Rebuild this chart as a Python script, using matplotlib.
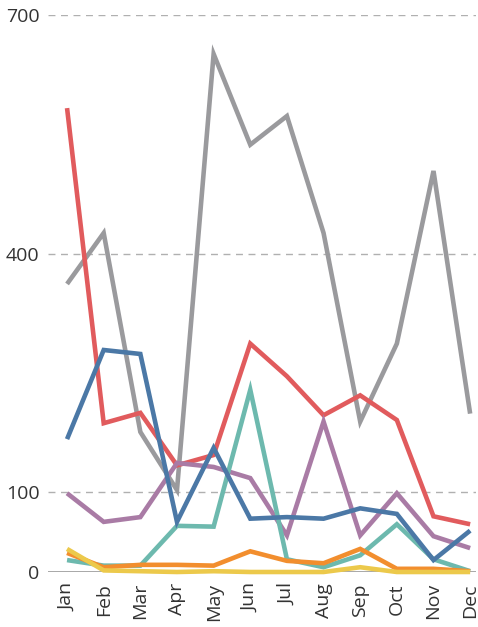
import matplotlib
matplotlib.use("Agg")
from matplotlib import pyplot as plt

months = ["Jan", "Feb", "Mar", "Apr", "May", "Jun", "Jul", "Aug", "Sep", "Oct", "Nov", "Dec"]

gray = [362, 426, 176, 103, 651, 537, 573, 426, 189, 287, 504, 199]
red = [583, 187, 200, 134, 147, 287, 246, 197, 222, 191, 70, 60]
purple = [99, 63, 69, 137, 132, 118, 46, 189, 46, 99, 45, 30]
teal = [15, 8, 8, 58, 57, 229, 16, 6, 21, 60, 16, 1]
blue = [167, 279, 274, 63, 156, 67, 69, 67, 80, 73, 15, 52]
orange = [24, 6, 9, 9, 8, 26, 14, 11, 29, 4, 4, 1]
yellow = [29, 2, 1, 0, 1, 0, 0, 0, 6, 0, 0, 0]

series = [
    (gray, "#9a9a9d"),
    (red, "#e15b5d"),
    (purple, "#a97ba5"),
    (teal, "#6db9ae"),
    (blue, "#4b78a6"),
    (orange, "#f28e2e"),
    (yellow, "#ecc94b"),
]

plt.rcParams["font.family"] = ["Open Sans", "DejaVu Sans"]

fig = plt.figure(figsize=(4.78, 6.27), dpi=100)
ax = fig.add_axes([48 / 478, 55 / 627, 428 / 478, 557 / 627])

x = list(range(len(months)))
for vals, col in series:
    ax.plot(x, vals, color=col, lw=3.3, clip_on=False, solid_joinstyle="miter", solid_capstyle="butt")

ax.set_xlim(-0.52, 11.16)
ax.set_ylim(0, 700)
ax.set_yticks([0, 100, 400, 700])
for v in [100, 400, 700]:
    ax.axhline(v, color="#b0b0b0", lw=1, ls=(0, (5, 4)), zorder=0)
ax.axhline(0, color="#999999", lw=1.2, zorder=0)

ax.set_xticks(x)
ax.set_xticklabels(months, rotation=90)
ax.tick_params(axis="both", length=0, labelsize=14, colors="#333333")
ax.tick_params(axis="y", pad=6)
ax.tick_params(axis="x", pad=8)
for s in ax.spines.values():
    s.set_visible(False)

fig.savefig("out.png", dpi=100)
